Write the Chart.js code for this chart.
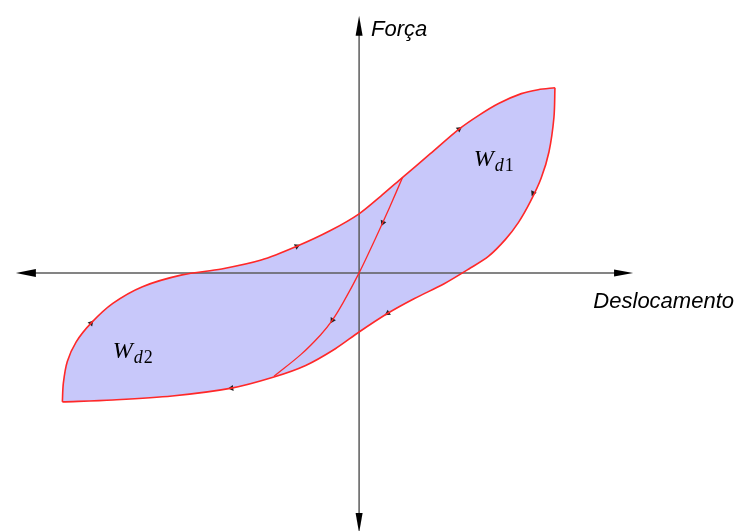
<!DOCTYPE html>
<html>
<head>
<meta charset="utf-8">
<script src="https://cdn.jsdelivr.net/npm/chart.js@4.4.0/dist/chart.umd.min.js"></script>
<style>
  html, body { margin: 0; padding: 0; background: #fff; }
  #wrap { width: 736px; height: 531px; }
</style>
</head>
<body>
<div id="wrap"><canvas id="histerese" width="736" height="531"></canvas></div>
<script>
// Ramo superior do laço: do canto inferior esquerdo até o canto superior direito
var supDesloc = [-30.0, -29.9, -29.5, -28.6, -27.1, -24.9, -21.9, -17.9, -13.9, -9.9, -6.3, -2.9, 0, 2.2, 4.4, 7.2, 10.1, 12.1, 14.1, 16.4, 18.1, 19.8];
var supForca  = [-13.1, -11.2, -9.0, -7.0, -5.1, -3.1, -1.4, -0.2, 0.4, 1.3, 2.7, 4.3, 6.0, 7.8, 9.7, 12.1, 14.6, 16.0, 17.2, 18.2, 18.6, 18.8];

// Ramo inferior: do canto superior direito de volta ao canto inferior esquerdo
var infDesloc = [19.8, 19.7, 19.2, 18.4, 17.3, 16.1, 14.8, 13.1, 11.1, 8.6, 5.6, 2.9, 0, -2.4, -5.4, -8.7, -12.9, -18.9, -24.9, -30.0];
var infForca  = [18.8, 15.8, 12.3, 9.6, 7.2, 5.1, 3.4, 1.7, 0.4, -1.1, -2.6, -4.1, -6.0, -7.7, -9.4, -10.6, -11.7, -12.5, -12.9, -13.1];

// Curva interna que passa pela origem
var intDesloc = [-8.6, -5.9, -3.9, -2.7, -1.6, 0, 1.7, 3.1, 4.4];
var intForca  = [-10.5, -8.3, -6.3, -4.8, -3.0, 0, 3.6, 6.7, 9.7];

// Setas indicando o sentido do percurso (ângulo em graus)
var setaDesloc = [-27.1, -6.3, 10.1, 17.6, 2.9, -12.9, -2.7, 2.4];
var setaForca  = [-5.1, 2.7, 14.6, 8.1, -4.1, -11.7, -4.8, 5.1];
var setaAngulo = [42, 65, 53, 205, 237, 262, 211, 203];

// Extensão dos eixos (pontas das setas)
var eixoX = [-34.7, 27.7];
var eixoY = [-26.4, 26.1];

// Rótulos das áreas dissipadas
var areas = [
    { nome: '1', x: 11.6, y: 10.9 },
    { nome: '2', x: -24.9, y: -8.6 }
];

function pares(xs, ys) {
    return xs.map(function(v, i) { return { x: v, y: ys[i] }; });
}

// percorre os pontos usando os pontos de controle calculados pelo Chart.js
function tracar(ctx, pts, mover) {
    for (var i = 0; i < pts.length; i++) {
        var p = pts[i];
        if (i === 0) {
            if (mover) ctx.moveTo(p.x, p.y); else ctx.lineTo(p.x, p.y);
            continue;
        }
        var q = pts[i - 1];
        ctx.bezierCurveTo(q.cp2x, q.cp2y, p.cp1x, p.cp1y, p.x, p.y);
    }
}

function seta(ctx, xp, yp, xb, yb, meia) {
    var dx = xp - xb, dy = yp - yb;
    var len = Math.sqrt(dx * dx + dy * dy);
    var nx = -dy / len * meia, ny = dx / len * meia;
    ctx.beginPath();
    ctx.moveTo(xp, yp);
    ctx.lineTo(xb + nx, yb + ny);
    ctx.lineTo(xb - nx, yb - ny);
    ctx.closePath();
    ctx.fill();
}

var fundoEixos = {
    id: 'fundoEixos',
    beforeDatasetsDraw: function(chart) {
        var ctx = chart.ctx, area = chart.chartArea;
        var sup = chart.getDatasetMeta(0), inf = chart.getDatasetMeta(1);
        sup.dataset.updateControlPoints(area, 'x');
        inf.dataset.updateControlPoints(area, 'x');

        ctx.save();
        // preenchimento do laço
        ctx.beginPath();
        tracar(ctx, sup.data, true);
        tracar(ctx, inf.data, false);
        ctx.closePath();
        ctx.fillStyle = 'rgb(200, 200, 250)';
        ctx.fill();

        // eixos
        var sx = chart.scales.x, sy = chart.scales.y;
        var x0 = sx.getPixelForValue(0), y0 = sy.getPixelForValue(0);
        var xa = sx.getPixelForValue(eixoX[0]), xb = sx.getPixelForValue(eixoX[1]);
        var ya = sy.getPixelForValue(eixoY[0]), yb = sy.getPixelForValue(eixoY[1]);
        ctx.strokeStyle = '#5c5c5c';
        ctx.lineWidth = 1.5;
        ctx.beginPath();
        ctx.moveTo(xa + 15, y0); ctx.lineTo(xb - 15, y0);
        ctx.moveTo(x0, yb + 15); ctx.lineTo(x0, ya - 15);
        ctx.stroke();
        ctx.fillStyle = '#000';
        seta(ctx, xa, y0, xa + 20, y0, 4);
        seta(ctx, xb, y0, xb - 19, y0, 3.5);
        seta(ctx, x0, yb, x0, yb + 20, 3.5);
        seta(ctx, x0, ya, x0, ya - 20, 3.5);
        ctx.restore();
    },
    afterDatasetsDraw: function(chart) {
        var ctx = chart.ctx;
        var sx = chart.scales.x, sy = chart.scales.y;
        var x0 = sx.getPixelForValue(0);
        ctx.save();
        ctx.fillStyle = '#000';
        ctx.textBaseline = 'alphabetic';
        ctx.font = 'italic 22px "Liberation Sans", Arial, sans-serif';
        ctx.textAlign = 'left';
        ctx.fillText('Força', x0 + 12, 36);
        ctx.textAlign = 'right';
        ctx.fillText('Deslocamento', chart.width - 2, 308);

        ctx.textAlign = 'left';
        areas.forEach(function(a) {
            var px = sx.getPixelForValue(a.x), py = sy.getPixelForValue(a.y);
            ctx.font = 'italic 24px "Liberation Serif", serif';
            ctx.fillText('W', px, py);
            var w = ctx.measureText('W').width + 1;
            ctx.font = 'italic 18px "Liberation Serif", serif';
            ctx.fillText('d', px + w, py + 5);
            var wd = ctx.measureText('d').width + 1;
            ctx.font = '18px "Liberation Serif", serif';
            ctx.fillText(a.nome, px + w + wd, py + 5);
        });
        ctx.restore();
    }
};

var linha = {
    showLine: true,
    borderColor: 'rgb(255, 40, 40)',
    borderWidth: 1.6,
    tension: 0.3,
    pointRadius: 0,
    fill: false
};

var ctx = document.getElementById('histerese').getContext('2d');
var histereseChart = new Chart(ctx, {
    type: 'scatter',
    data: {
        datasets: [
            Object.assign({ label: 'Ramo superior', data: pares(supDesloc, supForca) }, linha),
            Object.assign({ label: 'Ramo inferior', data: pares(infDesloc, infForca) }, linha),
            Object.assign({ label: 'Curva interna', data: pares(intDesloc, intForca) }, linha, { borderWidth: 1.3 }),
            {
                label: 'Sentido',
                data: pares(setaDesloc, setaForca),
                showLine: false,
                pointStyle: 'triangle',
                pointRadius: 3.5,
                pointRotation: setaAngulo,
                backgroundColor: '#222',
                borderColor: '#222',
                borderWidth: 0
            }
        ]
    },
    options: {
        responsive: false,
        animation: false,
        layout: { padding: 0 },
        plugins: {
            legend: { display: false },
            tooltip: { enabled: false }
        },
        scales: {
            x: { type: 'linear', min: -35.9, max: 37.7, display: false },
            y: { type: 'linear', min: -25.8, max: 27.3, display: false }
        }
    },
    plugins: [fundoEixos]
});
</script>
</body>
</html>
